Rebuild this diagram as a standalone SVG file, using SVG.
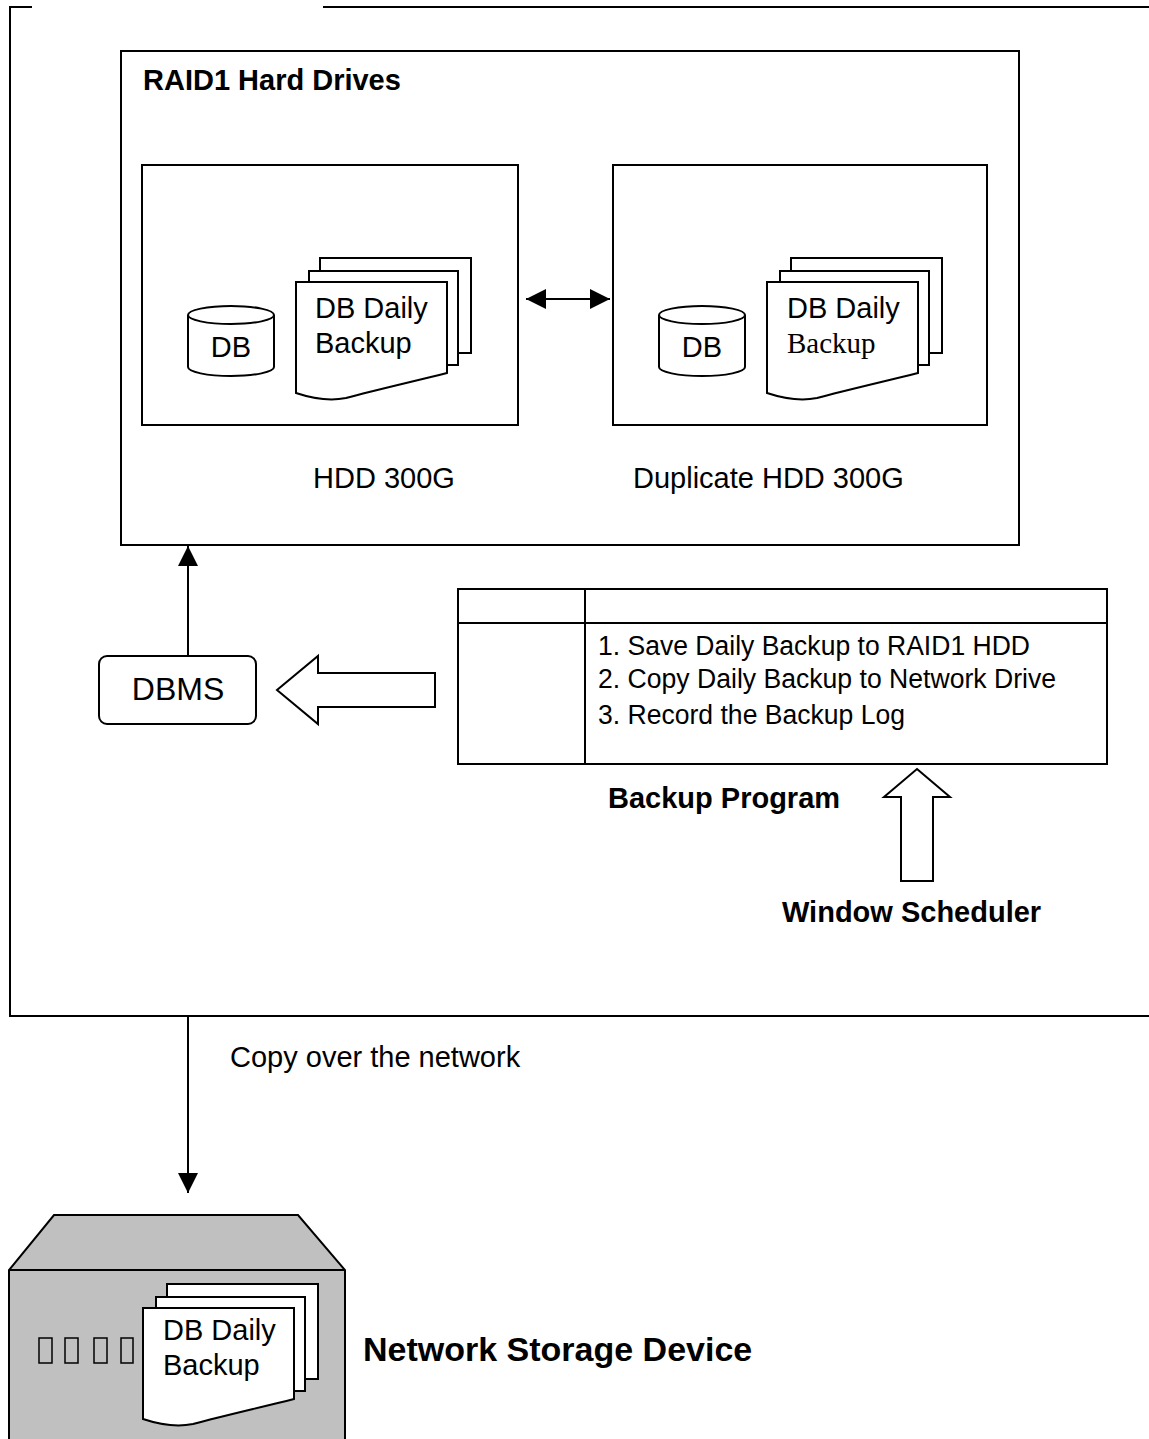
<svg xmlns="http://www.w3.org/2000/svg" width="1149" height="1439" viewBox="0 0 1149 1439">
  <defs>
    <style>
      .ln { fill: none; stroke: #000; stroke-width: 2; }
      .box { fill: #fff; stroke: #000; stroke-width: 2; }
      .pg { fill: #fff; stroke: #000; stroke-width: 2; stroke-linejoin: miter; }
      .t { font-family: "Liberation Sans", Arial, sans-serif; font-size: 29px; fill: #000; }
      .ts { font-family: "Liberation Serif", "Times New Roman", serif; font-size: 29px; fill: #000; }
      .b { font-weight: bold; }
      .row { font-family: "Liberation Sans", Arial, sans-serif; font-size: 27px; fill: #000; }
    </style>
    <marker id="ah" viewBox="0 0 10 10" refX="10" refY="5" markerWidth="10" markerHeight="10" markerUnits="userSpaceOnUse" orient="auto-start-reverse">
      <path d="M0,0 L10,5 L0,10 Z" fill="#000"/>
    </marker>
    <marker id="ah2" viewBox="0 0 10 10" refX="10" refY="5" markerWidth="20" markerHeight="20" markerUnits="userSpaceOnUse" orient="auto-start-reverse">
      <path d="M0,0 L10,5 L0,10 Z" fill="#000"/>
    </marker>
    <!-- stacked document symbol, origin at front page top-left -->
    <g id="docstack">
      <rect class="pg" x="24" y="-24" width="151" height="95"/>
      <rect class="pg" x="13" y="-11" width="149" height="94"/>
      <path class="pg" d="M0,0 H151 V91 C115,100 80,108 50,116 C30,120 12,115 0,111 Z"/>
    </g>
    <!-- database cylinder, origin at left of top ellipse centre -->
    <g id="cyl">
      <path class="pg" d="M0,0 V52 A43,9 0 0 0 86,52 V0 A43,9 0 0 0 0,0 Z"/>
      <path class="ln" d="M0,0 A43,9 0 0 0 86,0"/>
    </g>
  </defs>

  <!-- outer server frame (open at top and right) -->
  <g id="server-frame">
    <path class="ln" d="M32,7 H10 V1016 H1149"/>
    <path class="ln" d="M323,7 H1149"/>
  </g>

  <!-- RAID1 enclosure -->
  <g id="raid1">
    <rect class="box" x="121" y="51" width="898" height="494"/>
    <text class="t b" x="143" y="90">RAID1 Hard Drives</text>
  </g>

  <!-- primary drive -->
  <g id="hdd-primary">
    <rect class="box" x="142" y="165" width="376" height="260"/>
    <use href="#cyl" x="188" y="315"/>
    <text class="t" x="231" y="357" text-anchor="middle">DB</text>
    <use href="#docstack" x="296" y="282"/>
    <text class="t" x="315" y="318">DB Daily</text>
    <text class="t" x="315" y="353">Backup</text>
    <text class="t" x="313" y="488">HDD 300G</text>
  </g>

  <!-- mirrored drive -->
  <g id="hdd-duplicate">
    <rect class="box" x="613" y="165" width="374" height="260"/>
    <use href="#cyl" x="659" y="315"/>
    <text class="t" x="702" y="357" text-anchor="middle">DB</text>
    <use href="#docstack" x="767" y="282"/>
    <text class="t" x="787" y="318">DB Daily</text>
    <text class="ts" x="787" y="353">Backup</text>
    <text class="t" x="633" y="488">Duplicate HDD 300G</text>
  </g>

  <!-- DBMS -->
  <g id="dbms">
    <rect class="box" x="99" y="656" width="157" height="68" rx="8" ry="8"/>
    <text class="t" x="178" y="700" text-anchor="middle" style="font-size:32px">DBMS</text>
  </g>

  <!-- backup program table -->
  <g id="backup-program">
    <rect class="box" x="458" y="589" width="649" height="175"/>
    <line class="ln" x1="458" y1="623" x2="1107" y2="623"/>
    <line class="ln" x1="585" y1="589" x2="585" y2="764"/>
    <text class="row" x="598" y="655" textLength="432" lengthAdjust="spacingAndGlyphs">1. Save Daily Backup to RAID1 HDD</text>
    <text class="row" x="598" y="688" textLength="458" lengthAdjust="spacingAndGlyphs">2. Copy Daily Backup to Network Drive</text>
    <text class="row" x="598" y="724" textLength="307" lengthAdjust="spacingAndGlyphs">3. Record the Backup Log</text>
    <text class="t b" x="608" y="808">Backup Program</text>
  </g>

  <!-- scheduler -->
  <g id="window-scheduler">
    <text class="t b" x="782" y="922">Window Scheduler</text>
  </g>

  <!-- network storage device -->
  <g id="network-storage">
    <path d="M9,1439 V1270 L54,1215 H298 L345,1270 V1439" fill="#c0c0c0" stroke="#000" stroke-width="2"/>
    <line class="ln" x1="9" y1="1270" x2="345" y2="1270"/>
    <g fill="none" stroke="#000" stroke-width="1.5">
      <rect x="39" y="1338" width="13" height="25"/>
      <rect x="65" y="1338" width="13" height="25"/>
      <rect x="94" y="1338" width="13" height="25"/>
      <rect x="121" y="1338" width="12" height="25"/>
    </g>
    <use href="#docstack" x="143" y="1308"/>
    <text class="t" x="163" y="1340">DB Daily</text>
    <text class="t" x="163" y="1375">Backup</text>
    <text class="t b" x="363" y="1361" style="font-size:34px">Network Storage Device</text>
  </g>

  <!-- connectors -->
  <g id="connectors">
    <line class="ln" x1="526" y1="299" x2="610" y2="299" marker-start="url(#ah2)" marker-end="url(#ah2)"/>
    <line class="ln" x1="188" y1="656" x2="188" y2="546" marker-end="url(#ah2)"/>
    <path class="pg" d="M435,673 H318 V656 L277,690 L318,724 V707 H435 Z"/>
    <path class="pg" d="M917,769 L950,797 H933 V881 H901 V797 H884 Z"/>
    <line class="ln" x1="188" y1="1016" x2="188" y2="1193" marker-end="url(#ah2)"/>
    <text class="t" x="230" y="1067">Copy over the network</text>
  </g>
</svg>
